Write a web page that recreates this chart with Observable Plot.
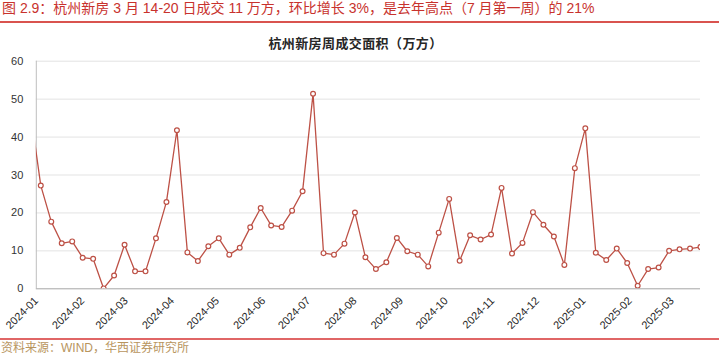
<!DOCTYPE html>
<html>
<head>
<meta charset="utf-8">
<script src="https://cdn.jsdelivr.net/npm/d3@7"></script>
<script src="https://cdn.jsdelivr.net/npm/@observablehq/plot@0.6"></script>
<style>
  html, body { margin: 0; padding: 0; background: #fff; }
  #page { position: relative; width: 719px; height: 356px; overflow: hidden; font-family: "Liberation Sans", "Noto Sans CJK SC", sans-serif; }
  #title { position: absolute; left: 2px; top: 0px; font-size: 14px; line-height: 17px; color: #c8322d; white-space: nowrap; }
  #rule1 { position: absolute; left: 0; top: 21px; width: 719px; height: 1.5px; background: #d9534f; }
  #ctitle { position: absolute; left: 0; top: 36px; width: 711px; text-align: center; font-size: 13px; line-height: 16px; font-weight: bold; color: #262626; letter-spacing: 0.4px; }
  #chart { position: absolute; left: 0; top: 50px; }
  #rule2 { position: absolute; left: 0; top: 338px; width: 719px; height: 1.5px; background: #e06666; }
  #source { position: absolute; left: 1px; top: 342px; font-size: 12px; line-height: 13px; color: #b8955e; white-space: nowrap; }
</style>
</head>
<body>
<div id="page">
  <div id="title">图 2.9：杭州新房 3 月 14-20 日成交 11 万方，环比增长 3%，是去年高点（7 月第一周）的 21%</div>
  <div id="rule1"></div>
  <div id="ctitle">杭州新房周成交面积（万方）</div>
  <div id="chart"></div>
  <div id="rule2"></div>
  <div id="source">资料来源：WIND，华西证券研究所</div>
</div>
<script>
// Week-ending dates (Thursdays)
const weeks = [
  "2023-12-28","2024-01-04","2024-01-11","2024-01-18","2024-01-25","2024-02-01","2024-02-08","2024-02-15",
  "2024-02-22","2024-02-29","2024-03-07","2024-03-14","2024-03-21","2024-03-28","2024-04-04","2024-04-11",
  "2024-04-18","2024-04-25","2024-05-02","2024-05-09","2024-05-16","2024-05-23","2024-05-30","2024-06-06",
  "2024-06-13","2024-06-20","2024-06-27","2024-07-04","2024-07-11","2024-07-18","2024-07-25","2024-08-01",
  "2024-08-08","2024-08-15","2024-08-22","2024-08-29","2024-09-05","2024-09-12","2024-09-19","2024-09-26",
  "2024-10-03","2024-10-10","2024-10-17","2024-10-24","2024-10-31","2024-11-07","2024-11-14","2024-11-21",
  "2024-11-28","2024-12-05","2024-12-12","2024-12-19","2024-12-26","2025-01-02","2025-01-09","2025-01-16",
  "2025-01-23","2025-01-30","2025-02-06","2025-02-13","2025-02-20","2025-02-27","2025-03-06","2025-03-13",
  "2025-03-20"
];
// Weekly transaction area (万方)
const area = [
  47, 27.2, 17.7, 12.0, 12.5, 8.2, 7.9, 0.1,
  3.5, 11.6, 4.6, 4.6, 13.3, 22.9, 41.8, 9.6,
  7.3, 11.2, 13.3, 9.0, 10.8, 16.2, 21.3, 16.7,
  16.3, 20.6, 25.7, 51.4, 9.4, 9.0, 11.9, 20.1,
  8.3, 5.2, 7.0, 13.4, 9.9, 9.0, 5.9, 14.8,
  23.7, 7.4, 14.1, 13.0, 14.3, 26.6, 9.3, 12.1,
  20.2, 16.9, 13.8, 6.3, 31.8, 42.3, 9.5, 7.6,
  10.6, 6.8, 0.8, 5.2, 5.6, 10.0, 10.4, 10.6,
  11.0
];
const monthLabels = ["2024-01","2024-02","2024-03","2024-04","2024-05","2024-06","2024-07","2024-08",
  "2024-09","2024-10","2024-11","2024-12","2025-01","2025-02","2025-03"];
const yTicks = [0, 10, 20, 30, 40, 50, 60];
const xStart = "2024-01-01";
const xEnd = "2025-03-20";

const data = weeks.map((d, i) => ({date: new Date(d), value: area[i]}));
const monthTicks = monthLabels.map(m => new Date(m + "-01"));
const x0 = new Date(xStart);
const lineColor = "#bd5146";

const chart = Plot.plot({
  width: 719,
  height: 285,
  marginTop: 10.7,
  marginBottom: 46.7,
  marginLeft: 35.8,
  marginRight: 19,
  style: {fontFamily: "'Liberation Sans', Arial, sans-serif", fontSize: "11px", color: "#333", background: "white"},
  x: {type: "utc", domain: [x0, new Date(xEnd)], label: null},
  y: {domain: [0, 60], label: null},
  marks: [
    Plot.gridY(yTicks.filter(t => t > 0), {stroke: "#e3e3e3", strokeOpacity: 1}),
    Plot.ruleX([x0], {stroke: "#bfbfbf"}),
    Plot.ruleY([0], {stroke: "#a6a6a6"}),
    Plot.axisY(yTicks, {tickSize: 0, tickPadding: 13, fill: "#333", label: null}),
    Plot.axisX(monthTicks, {tickFormat: d3.utcFormat("%Y-%m"), tickRotate: -45, tickSize: 0, tickPadding: 10, fill: "#262626", label: null}),
    Plot.line(data, {x: "date", y: "value", stroke: lineColor, strokeWidth: 1.3, clip: true}),
    Plot.dot(data, {x: "date", y: "value", r: 2.4, fill: "white", stroke: lineColor, strokeWidth: 1.2, clip: true})
  ]
});
document.getElementById("chart").appendChild(chart);
</script>
</body>
</html>
